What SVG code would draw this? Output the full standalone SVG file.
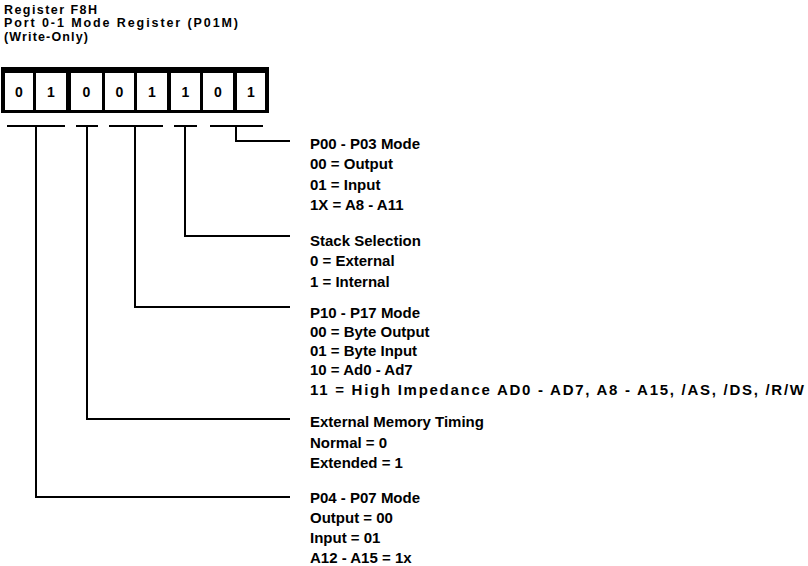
<svg xmlns="http://www.w3.org/2000/svg" width="808" height="566" viewBox="0 0 808 566">
<style>
text{font-family:"Liberation Sans",Arial,sans-serif;font-weight:bold;fill:#000}
.t{font-size:15px}
.h{font-size:12.5px}
.d{font-size:14px;text-anchor:middle}
.cell{fill:#fff}
.c{fill:none;stroke:#000;stroke-width:2}
</style>
<rect width="808" height="566" fill="#fff"/>
<g id="title">
<text class="h" x="4" y="13.5" textLength="93" lengthAdjust="spacing">Register F8H</text>
<text class="h" x="4" y="27" textLength="234" lengthAdjust="spacing">Port 0-1 Mode Register (P01M)</text>
<text class="h" x="4" y="41" textLength="84" lengthAdjust="spacing">(Write-Only)</text>
</g>
<g id="register">
<rect x="1" y="67" width="268" height="46" fill="#000"/>
<rect class="cell" x="5" y="73" width="28" height="37"/>
<rect class="cell" x="36" y="73" width="30" height="37"/>
<rect class="cell" x="71" y="73" width="31" height="37"/>
<rect class="cell" x="105" y="73" width="29" height="37"/>
<rect class="cell" x="137" y="73" width="30" height="37"/>
<rect class="cell" x="171" y="73" width="29" height="37"/>
<rect class="cell" x="203" y="73" width="30" height="37"/>
<rect class="cell" x="237" y="73" width="28" height="37"/>
<text class="d" x="19" y="97">0</text>
<text class="d" x="51" y="97">1</text>
<text class="d" x="86.5" y="97">0</text>
<text class="d" x="119.5" y="97">0</text>
<text class="d" x="152" y="97">1</text>
<text class="d" x="185.5" y="97">1</text>
<text class="d" x="218" y="97">0</text>
<text class="d" x="251" y="97">1</text>
</g>
<g id="connectors">
<path class="c" d="M7 126H65M76 126H98M109 126H163M174 126H197M210 126H263"/>
<path class="c" d="M236 126V141H290"/>
<path class="c" d="M185 126V236H290"/>
<path class="c" d="M135 126V307H290"/>
<path class="c" d="M87 126V419H290"/>
<path class="c" d="M36 126V497H290"/>
</g>
<g id="p00-p03">
<text class="t" x="310" y="149">P00 - P03 Mode</text>
<text class="t" x="310" y="169">00 = Output</text>
<text class="t" x="310" y="190">01 = Input</text>
<text class="t" x="310" y="210">1X = A8 - A11</text>
</g>
<g id="stack">
<text class="t" x="310" y="246">Stack Selection</text>
<text class="t" x="310" y="266">0 = External</text>
<text class="t" x="310" y="287">1 = Internal</text>
</g>
<g id="p10-p17">
<text class="t" x="310" y="318">P10 - P17 Mode</text>
<text class="t" x="310" y="337">00 = Byte Output</text>
<text class="t" x="310" y="356">01 = Byte Input</text>
<text class="t" x="310" y="375">10 = Ad0 - Ad7</text>
<text class="t" x="310" y="395" textLength="494" lengthAdjust="spacing">11 = High Impedance AD0 - AD7, A8 - A15, /AS, /DS, /R/W</text>
</g>
<g id="emt">
<text class="t" x="310" y="427">External Memory Timing</text>
<text class="t" x="310" y="448">Normal = 0</text>
<text class="t" x="310" y="468">Extended = 1</text>
</g>
<g id="p04-p07">
<text class="t" x="310" y="503">P04 - P07 Mode</text>
<text class="t" x="310" y="523">Output = 00</text>
<text class="t" x="310" y="543">Input = 01</text>
<text class="t" x="310" y="563">A12 - A15 = 1x</text>
</g>
</svg>
